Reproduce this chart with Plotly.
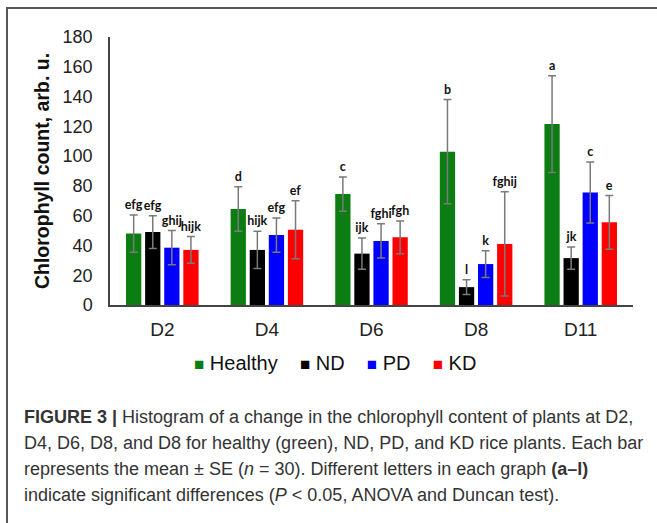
import plotly.graph_objects as go

# Sampling days and treatment groups
categories = ["D2", "D4", "D6", "D8", "D11"]

healthy = [48, 64.5, 74.5, 103, 121.5]
healthy_se = [12.5, 15, 11.5, 35, 32.5]
healthy_letters = ["efg", "d", "c", "b", "a"]

nd = [49, 37, 34.5, 12, 31.5]
nd_se = [11, 12.5, 10.5, 5, 7.5]
nd_letters = ["efg", "hijk", "ijk", "l", "jk"]

pd_vals = [38.5, 47, 43, 27.5, 75.5]
pd_se = [11.5, 11.5, 11.5, 9, 20.5]
pd_letters = ["ghij", "efg", "fghi", "k", "c"]

kd = [37, 50.5, 45.5, 41, 55.5]
kd_se = [9, 19.5, 11, 35, 18]
kd_letters = ["hijk", "ef", "fgh", "fghij", "e"]

series = [
    ("Healthy", healthy, healthy_se, healthy_letters, "#0b7d12"),
    ("ND", nd, nd_se, nd_letters, "#000000"),
    ("PD", pd_vals, pd_se, pd_letters, "#0000ff"),
    ("KD", kd, kd_se, kd_letters, "#ff0000"),
]

FONT = "Liberation Sans, Arial, sans-serif"
LETTER_FONT = "Lato, sans-serif"

fig = go.Figure()
for name, vals, se, letters, color in series:
    fig.add_trace(go.Bar(
        name=name, x=categories, y=vals, offsetgroup=name,
        marker=dict(color=color, line=dict(width=0)),
        error_y=dict(type="data", array=se, visible=True,
                     color="#7a7a7a", thickness=1.5, width=4),
        showlegend=False,
    ))
    # significance letters sit on top of each error bar
    tops = [v + s for v, s in zip(vals, se)]
    fig.add_trace(go.Bar(
        x=categories, y=[0.01] * len(vals), base=tops, offsetgroup=name,
        marker=dict(color="rgba(0,0,0,0)", line=dict(width=0)),
        text=letters, textposition="outside", constraintext="none",
        textangle=0, cliponaxis=False,
        outsidetextfont=dict(family=LETTER_FONT, size=12.5,
                             color="#111111", weight="bold"),
        showlegend=False, hoverinfo="skip",
    ))

# plot-area geometry in pixels (used for paper-coordinate placement)
W, H = 657, 523
L, R, T, B = 110, 24, 37, 217.5
pw, ph = W - L - R, H - T - B


def px_x(x):
    return (x - L) / pw


def px_y(y):
    return (H - B - y) / ph


# key: coloured square followed by the series name
NBSP = "\u00a0"
legend_text = (NBSP * 4).join(
    f"<span style='color:{color};font-size:17px'>■</span>{NBSP}{name}"
    for name, _, _, _, color in series
)

caption = [
    "<b>FIGURE 3 |</b> Histogram of a change in the chlorophyll content of plants at D2,",
    "D4, D6, D8, and D8 for healthy (green), ND, PD, and KD rice plants. Each bar",
    "represents the mean ± SE (<i>n</i> = 30). Different letters in each graph <b>(a–l)</b>",
    "indicate significant differences (<i>P</i> &lt; 0.05, ANOVA and Duncan test).",
]
caption_y = [418, 444, 470, 496]

annotations = [
    dict(text=legend_text, xref="paper", yref="paper", x=px_x(335),
         y=px_y(364), xanchor="center", yanchor="middle", showarrow=False,
         font=dict(family=FONT, size=20, color="#111111"))
]
annotations += [
    dict(text=line, xref="paper", yref="paper", x=px_x(22), y=px_y(cy),
         xanchor="left", yanchor="middle", showarrow=False, align="left",
         font=dict(family=FONT, size=18, color="#333333"))
    for line, cy in zip(caption, caption_y)
]

shapes = [
    dict(type="line", xref="paper", yref="paper",
         x0=px_x(7), x1=px_x(7), y0=px_y(8), y1=px_y(540),
         line=dict(color="#555555", width=2)),
    dict(type="line", xref="paper", yref="paper",
         x0=px_x(6), x1=px_x(660), y0=px_y(8), y1=px_y(8),
         line=dict(color="#555555", width=2)),
]

fig.update_layout(
    width=W, height=H,
    margin=dict(l=L, r=R, t=T, b=B, pad=0),
    paper_bgcolor="white", plot_bgcolor="white",
    barmode="group", bargap=0.27, bargroupgap=0.2,
    font=dict(family=FONT, color="#222222"),
    showlegend=False,
    annotations=annotations,
    shapes=shapes,
)

fig.update_yaxes(
    range=[0, 180], dtick=20, showgrid=False, zeroline=False,
    showline=True, linecolor="#444444", linewidth=1.5, ticks="",
    ticklabelstandoff=12,
    tickfont=dict(family=FONT, size=18, color="#222222"),
    title=dict(text="<b>Chlorophyll count, arb. u.</b>", standoff=8,
               font=dict(family=FONT, size=19.5, color="#111111")),
)
fig.update_xaxes(
    showgrid=False, showline=True, linecolor="#444444", linewidth=1.5,
    ticks="", ticklabelstandoff=6,
    tickfont=dict(family=FONT, size=19, color="#222222"),
)

fig.write_html("out.html")
